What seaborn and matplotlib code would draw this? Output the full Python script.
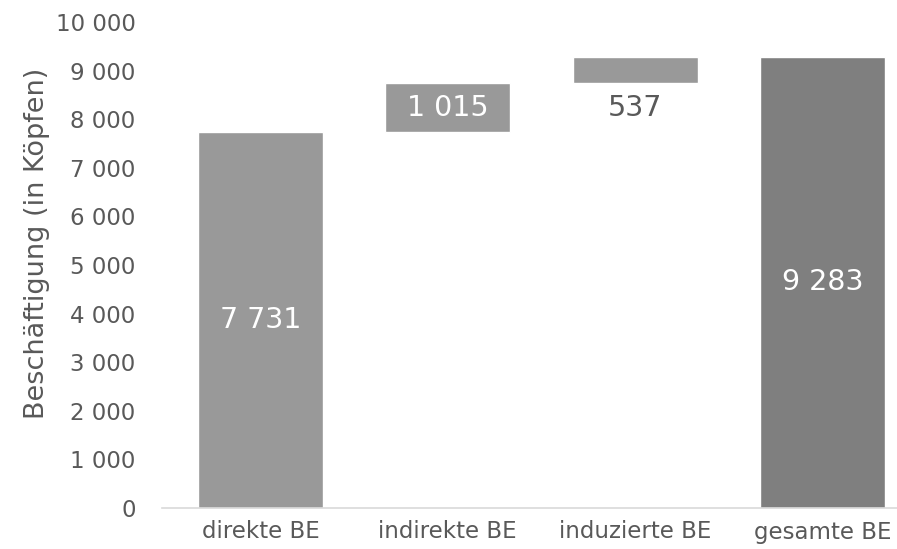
import matplotlib
matplotlib.use("Agg")
import matplotlib.pyplot as plt
import seaborn as sns
import pandas as pd
import numpy as np
from matplotlib.ticker import FuncFormatter, MultipleLocator

categories = ["direkte BE", "indirekte BE", "induzierte BE", "gesamte BE"]
values = [7731, 1015, 537, 9283]
is_total = [False, False, False, True]
bar_colors = ["#999999", "#999999", "#999999", "#7f7f7f"]
label_colors = ["white", "white", "#595959", "white"]

# floating bottoms for the waterfall
bottoms = []
running = 0
for v, t in zip(values, is_total):
    if t:
        bottoms.append(0)
    else:
        bottoms.append(running)
        running += v

sns.set_theme(style="white")
plt.rcParams['font.family'] = ['DejaVu Sans']
text_color = "#595959"

fig = plt.figure(figsize=(8.97, 5.49), dpi=100)
ax = fig.add_axes([162/897, 41/549, 735/897, 486/549])

df = pd.DataFrame({"cat": categories, "val": values})
sns.barplot(data=df, x="cat", y="val", hue="cat", palette=bar_colors,
            legend=False, width=0.667, ax=ax, saturation=1)

for p, b in zip(ax.patches, bottoms):
    p.set_y(b)

def fmt(v):
    return f"{int(v):,}".replace(",", " ")

for i, (p, v, b) in enumerate(zip(ax.patches, values, bottoms)):
    cx = p.get_x() + p.get_width() / 2
    if v < 800:
        ax.text(cx, b - 520, fmt(v), ha="center", va="center", color=label_colors[i], fontsize=20.5)
    else:
        ax.text(cx, b + v / 2, fmt(v), ha="center", va="center", color=label_colors[i], fontsize=20.5)

ax.set_xlim(-98.5/187.5, 3 + (897 - 822.5)/187.5)
ax.set_ylim(0, 10000)
ax.yaxis.set_major_locator(MultipleLocator(1000))
ax.yaxis.set_major_formatter(FuncFormatter(lambda v, p: fmt(v)))

ax.set_xlabel("")
ax.set_ylabel("Beschäftigung (in Köpfen)", color=text_color, fontsize=19.5)
ax.yaxis.set_label_coords(-112/735, (508 - 243) / 486)

ax.tick_params(axis="both", length=0, colors=text_color, labelsize=16.5)
ax.tick_params(axis="y", pad=19)
ax.tick_params(axis="x", pad=9)

for s in ["top", "right", "left"]:
    ax.spines[s].set_visible(False)
ax.spines["bottom"].set_color("#d9d9d9")
ax.spines["bottom"].set_linewidth(1.2)
ax.grid(False)

fig.savefig("out.png", dpi=100)
